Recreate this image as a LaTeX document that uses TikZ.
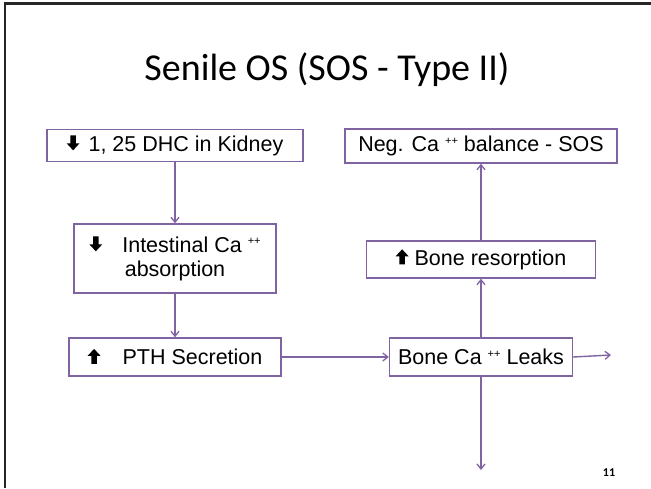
\documentclass[tikz,border=0pt]{standalone}
\usepackage{fontspec}
\setmainfont{Liberation Sans}
\newfontfamily\calib{Carlito}
\usetikzlibrary{arrows.meta}
\definecolor{fr}{HTML}{8064A2}
\newcommand{\dnarr}{\tikz[baseline=-1pt,x=1pt,y=1pt]\fill[black] (-2.7,15)--(2.7,15)--(2.7,7)--(6.5,7)--(0,0)--(-6.5,7)--(-2.7,7)--cycle;}
\newcommand{\uparr}{\tikz[baseline=-1pt,x=1pt,y=1pt]\fill[black] (-2.7,0)--(2.7,0)--(2.7,8)--(6.5,8)--(0,15)--(-6.5,8)--(-2.7,8)--cycle;}
\newcommand{\pp}{\raisebox{7.5pt}{\fontsize{11}{11}\selectfont ++}}
\begin{document}
\begin{tikzpicture}[x=1pt,y=-1pt,
  box/.style={draw=fr,line width=1.4pt,fill=white,inner sep=0pt,align=center,
    font=\fontsize{21.5}{25}\selectfont},
  conn/.style={draw=fr,line width=1.4pt,-{Straight Barb[length=5pt,width=8pt,line width=1.3pt]}}]
\useasboundingbox (0,0) rectangle (651,488);
\fill[white] (0,0) rectangle (651,488);
\draw[line width=2.6pt,black!85] (5,488) -- (5,3.5) -- (651,3.5);
\node (title) at (327,70) {\calib\fontsize{38}{42}\selectfont Senile OS (SOS - Type II)};
\node[box,minimum width=256pt,minimum height=32pt] (b1) at (175,145.5) {\dnarr\hspace{9pt}1, 25 DHC in Kidney};
\node[box,minimum width=202pt,minimum height=69pt] (b2) at (175,258.5) {\dnarr\hspace{20pt}Intestinal Ca \pp\\[-1pt]absorption};
\node[box,minimum width=212pt,minimum height=38pt] (b3) at (175,357) {\uparr\hspace{22pt}PTH Secretion};
\node[box,minimum width=183pt,minimum height=38pt] (b4) at (481,357) {Bone Ca \pp\ Leaks};
\node[box,minimum width=229pt,minimum height=37pt] (b5) at (481,259.5) {\uparr\ Bone resorption};
\node[box,minimum width=272pt,minimum height=34pt] (b6) at (481,146) {Neg. Ca \pp\ balance - SOS};
\coordinate (r) at (611,355);
\coordinate (d) at (481,470);
\node (pg) at (609,473) {\calib\bfseries\fontsize{12}{14}\selectfont 11};
\draw[conn] (b1.south) -- (b2.north);
\draw[conn] (b2.south) -- (b3.north);
\draw[conn] (b3.east) -- (b4.west);
\draw[conn] (b4.north) -- (b5.south);
\draw[conn] (b5.north) -- (b6.south);
\draw[conn] (b4.east) -- (r);
\draw[conn] (b4.south) -- (d);
\end{tikzpicture}
\end{document}
